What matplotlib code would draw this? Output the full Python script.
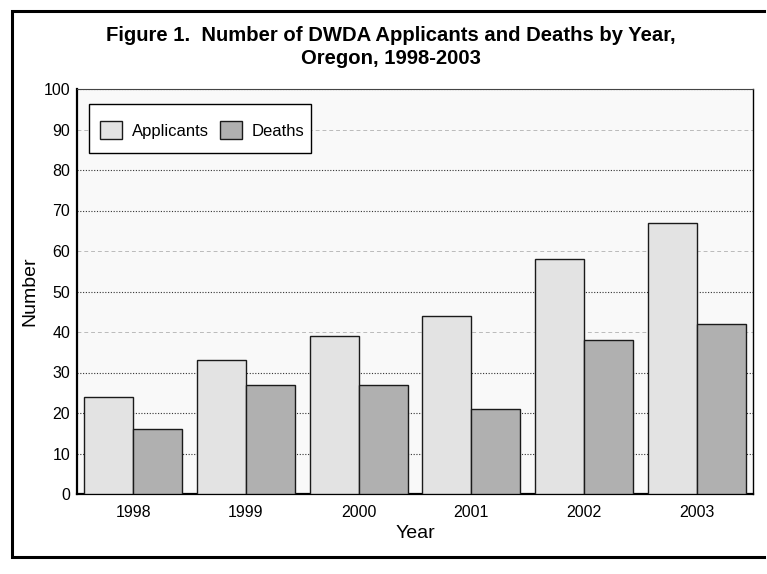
import matplotlib.pyplot as plt
import numpy as np
from matplotlib.lines import Line2D
from matplotlib.patches import Rectangle

plt.rcParams['font.family'] = ['Liberation Sans', 'DejaVu Sans']

years = ["1998", "1999", "2000", "2001", "2002", "2003"]
applicants = [24, 33, 39, 44, 58, 67]
deaths = [16, 27, 27, 21, 38, 42]
yticks = [0, 10, 20, 30, 40, 50, 60, 70, 80, 90, 100]

fig = plt.figure(figsize=(7.67, 5.74), dpi=100)
W, H = 767, 574
ax = fig.add_axes([77 / W, 1 - 494 / H, (753 - 77) / W, (494 - 89) / H])
ax.set_facecolor("#f9f9f9")

# outer frame (right side runs off the picture)
fx = [764 / W, 12 / W, 12 / W, 764 / W]
fy = [1 - 11 / H, 1 - 11 / H, 1 - 557 / H, 1 - 557 / H]
fig.lines.append(Line2D(fx, fy, transform=fig.transFigure, color="black",
                        linewidth=2.2, solid_joinstyle="miter"))

x = np.arange(len(years))
bw = 0.435
ax.bar(x - bw / 2, applicants, bw, color="#e3e3e3", edgecolor="#1a1a1a",
       linewidth=1.0, label="Applicants", zorder=3)
ax.bar(x + bw / 2, deaths, bw, color="#b0b0b0", edgecolor="#1a1a1a",
       linewidth=1.0, label="Deaths", zorder=3)

# gridlines
for v in yticks[1:]:
    if v in (40, 60, 90):
        ax.axhline(v, color="#bbbbbb", linestyle=(0, (4, 3)), linewidth=0.7, zorder=1)
    else:
        ax.axhline(v, color="#333333", linestyle=(0, (1, 1.5)), linewidth=0.8, zorder=1)

ax.set_xlim(-0.5, 5.5)
ax.set_ylim(0, 100)
ax.set_yticks(yticks)
ax.set_xticks(x)
ax.set_xticklabels(years)
ax.tick_params(axis="both", length=0, labelsize=11.5, colors="black")
ax.tick_params(axis="y", pad=5)
ax.tick_params(axis="x", pad=8)

ax.spines["left"].set_linewidth(1.6)
ax.spines["bottom"].set_linewidth(1.6)
ax.spines["right"].set_linewidth(1.0)
ax.spines["top"].set_linewidth(0.8)
ax.spines["top"].set_linestyle((0, (1, 1)))
ax.spines["top"].set_color("#444444")

ax.set_xlabel("Year", fontsize=14)
ax.set_ylabel("Number", fontsize=14)
ax.xaxis.set_label_coords(0.5, -(533 - 494) / 405, transform=ax.transAxes)
ax.yaxis.set_label_coords(-(77 - 30) / 676, 0.5, transform=ax.transAxes)
ax.xaxis.label.set_va("center")
ax.yaxis.label.set_va("center")

# legend box drawn separately so its padding matches
fig.patches.append(Rectangle((89 / W, 1 - 153 / H), (311 - 89) / W, (153 - 104) / H,
                             transform=fig.transFigure, facecolor="white",
                             edgecolor="black", linewidth=1.0, zorder=4))
leg = fig.legend(*ax.get_legend_handles_labels(), loc="center left",
                 bbox_to_anchor=(100 / W, 1 - 130 / H), ncol=2,
                 frameon=False, fontsize=12,
                 handlelength=1.32, handleheight=1.32, handletextpad=0.6,
                 columnspacing=0.65, borderpad=0, borderaxespad=0)
leg.set_zorder(5)

fig.text(391 / W, 1 - 41 / H, "Figure 1.  Number of DWDA Applicants and Deaths by Year,",
         ha="center", va="baseline", fontsize=14.6, fontweight="bold")
fig.text(391 / W, 1 - 64 / H, "Oregon, 1998-2003",
         ha="center", va="baseline", fontsize=14.6, fontweight="bold")

fig.savefig("out.png", dpi=100)
